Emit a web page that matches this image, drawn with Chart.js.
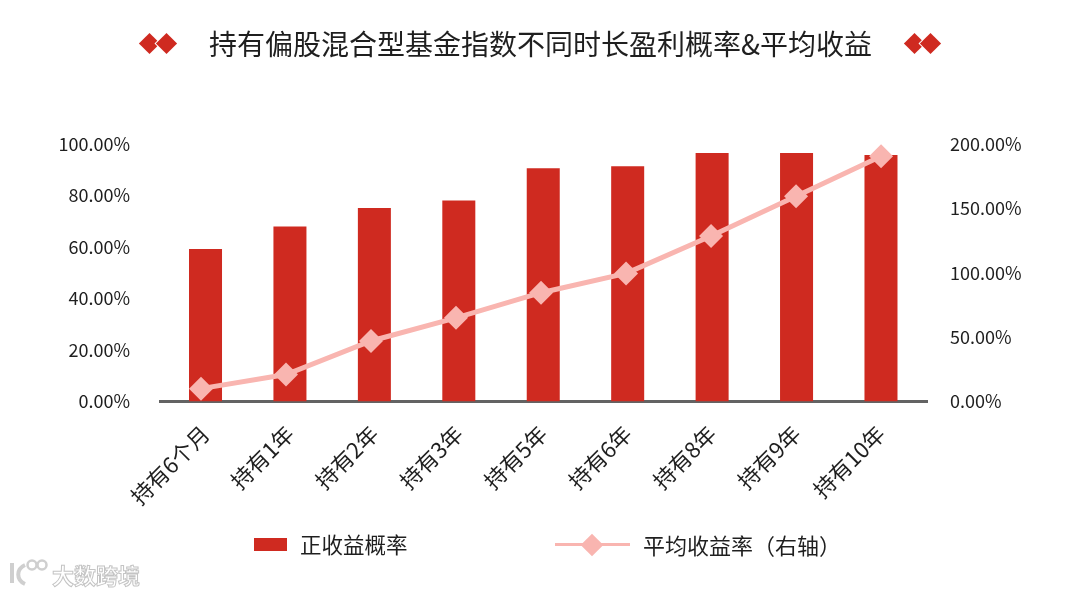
<!DOCTYPE html>
<html><head><meta charset="utf-8">
<script src="https://cdn.jsdelivr.net/npm/chart.js@4"></script>
<style>
html,body{margin:0;padding:0;background:#fff;width:1080px;height:594px;overflow:hidden;font-family:"Noto Sans CJK SC",sans-serif;color:#1f1f1f}
#wrap{position:relative;width:1080px;height:594px}
canvas{position:absolute;left:0;top:0}
.t{position:absolute;white-space:nowrap;line-height:1}
.d{position:absolute;width:15px;height:15px;background:#cf2a20;transform:rotate(45deg);top:35.5px;box-shadow:0 0 0 1px #fff}
.lg{position:absolute}
</style></head><body>
<div id="wrap">
<canvas id="c" width="1080" height="594"></canvas>
<div class="d" style="left:142px"></div><div class="d" style="left:158.5px"></div>
<div class="t" style="left:209px;top:29px;font-size:28px">持有偏股混合型基金指数不同时长盈利概率&amp;平均收益</div>
<div class="d" style="left:906.5px"></div><div class="d" style="left:923px"></div>
<div class="lg" style="left:254px;top:538px;width:33px;height:13px;background:#cf2a20"></div>
<div class="t" style="left:300px;top:533px;font-size:21.5px">正收益概率</div>
<div class="lg" style="left:555px;top:543px;width:75px;height:3px;background:#f9b5b0"></div>
<div class="lg" style="left:584px;top:536.5px;width:16px;height:16px;background:#f9b5b0;transform:rotate(45deg)"></div>
<div class="t" style="left:643px;top:533px;font-size:22px">平均收益率（右轴）</div>
<svg class="lg" style="left:8px;top:558px" width="44" height="30" fill="none" stroke="#cfcfcf" stroke-width="2.5">
<path d="M4 5V25M17 7C8 11 8 22 17 26" stroke-width="4"/><circle cx="24" cy="7" r="4.5"/><circle cx="34" cy="7" r="4.5"/></svg>
<div class="t" style="left:52px;top:563px;font-size:22px;color:#fff;-webkit-text-stroke:1px #c4c4c4;font-weight:700">大数跨境</div>
</div>
<script>
const categories=["持有6个月","持有1年","持有2年","持有3年","持有5年","持有6年","持有8年","持有9年","持有10年"];
const positiveRate=[59.2,68.0,75.1,78.1,90.6,91.4,96.5,96.5,95.7];
const avgReturn=[10,21,47,65,84.5,99.5,128.5,159.5,190.5];
const leftTicks=[0,20,40,60,80,100];
const rightTicks=[0,50,100,150,200];
const font={family:'"Noto Sans CJK SC",sans-serif',size:18};
const pts=a=>a.map((y,i)=>({x:i,y}));
new Chart(document.getElementById('c'),{
 data:{datasets:[
  {type:'line',label:'平均收益率（右轴）',data:pts(avgReturn),xAxisID:'x2',yAxisID:'y2',borderColor:'#f9b5b0',backgroundColor:'#f9b5b0',borderWidth:5,pointStyle:'rectRot',pointRadius:12,pointHoverRadius:12,pointBorderWidth:0,tension:0,order:1},
  {type:'bar',label:'正收益概率',data:pts(positiveRate),xAxisID:'x',yAxisID:'y',backgroundColor:'#cf2a20',grouped:false,barPercentage:0.391,categoryPercentage:1,order:2}
 ]},
 options:{responsive:false,animation:false,
  layout:{padding:{left:0,right:0,top:144,bottom:0}},
  plugins:{legend:{display:false},title:{display:false},tooltip:{enabled:false}},
  scales:{
   x:{type:'linear',offset:false,min:-0.539,max:8.545,afterBuildTicks:a=>{a.ticks=categories.map((_,i)=>({value:i}))},
      afterFit:a=>{a.height=192.5},grid:{display:false,drawTicks:false,offset:false},border:{color:'#636363',width:3},
      ticks:{color:'#1f1f1f',font:{family:font.family,size:22},maxRotation:45,minRotation:45,padding:19,autoSkip:false,callback:v=>categories[v]}},
   x2:{type:'linear',display:false,offset:false,min:-0.482,max:8.54},
   y:{position:'left',min:0,max:100,afterBuildTicks:a=>{a.ticks=leftTicks.map(v=>({value:v}))},afterFit:a=>{a.width=160},grid:{display:false,drawTicks:false},border:{display:false},
      ticks:{color:'#1f1f1f',font,padding:30,callback:v=>v.toFixed(2)+'%'}},
   y2:{position:'right',min:0,max:200,afterBuildTicks:a=>{a.ticks=rightTicks.map(v=>({value:v}))},afterFit:a=>{a.width=153},grid:{display:false,drawTicks:false},border:{display:false},
      ticks:{color:'#1f1f1f',font,padding:23,callback:v=>v.toFixed(2)+'%'}}
  }
  }
});
</script>
</body></html>
